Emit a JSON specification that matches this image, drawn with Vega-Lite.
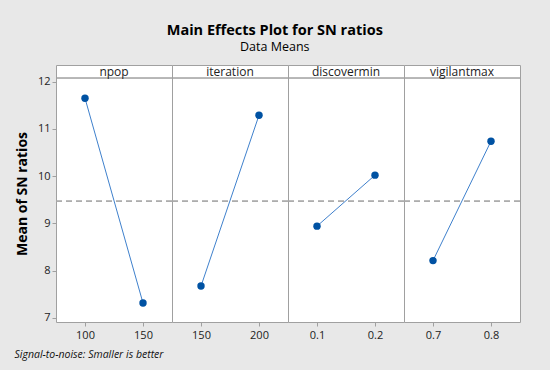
{
  "$schema": "https://vega.github.io/schema/vega-lite/v6.json",
  "background": "#e8e8e8",
  "padding": {"left": 14, "top": 22, "right": 29, "bottom": 10},
  "title": {
    "text": "Main Effects Plot for SN ratios",
    "subtitle": "Data Means",
    "fontSize": 14.5,
    "fontWeight": "bold",
    "subtitleFontSize": 12.5,
    "color": "#000000",
    "subtitleColor": "#000000",
    "anchor": "middle",
    "frame": "bounds",
    "dx": 7,
    "offset": 10,
    "subtitlePadding": 3
  },
  "config": {
    "font": "Open Sans",
    "view": {"stroke": "#a0a0a0", "fill": "#ffffff"},
    "axis": {"labelFontSize": 11, "labelColor": "#222222", "tickColor": "#a0a0a0", "tickSize": 4, "domain": false, "grid": false}
  },
  "spacing": 8,
  "vconcat": [
    {
      "data": {
        "values": [
          {"factor": "npop", "level": "100", "value": 11.65},
          {"factor": "npop", "level": "150", "value": 7.31},
          {"factor": "iteration", "level": "150", "value": 7.67},
          {"factor": "iteration", "level": "200", "value": 11.29},
          {"factor": "discovermin", "level": "0.1", "value": 8.94},
          {"factor": "discovermin", "level": "0.2", "value": 10.02},
          {"factor": "vigilantmax", "level": "0.7", "value": 8.21},
          {"factor": "vigilantmax", "level": "0.8", "value": 10.74}
        ]
      },
      "facet": {
        "column": {
          "field": "factor",
          "type": "nominal",
          "sort": ["npop", "iteration", "discovermin", "vigilantmax"],
          "header": {"title": null, "labels": false}
        }
      },
      "spacing": 0,
      "bounds": "flush",
      "resolve": {"scale": {"x": "independent"}},
      "spec": {
        "width": 116,
        "height": 257,
        "layer": [
          {
            "mark": {"type": "rule", "strokeDash": [6, 4], "color": "#a8a8a8", "strokeWidth": 1.2},
            "encoding": {"y": {"datum": 9.47, "type": "quantitative", "scale": {"domain": [6.909, 12.354], "nice": false, "zero": false},
                "axis": {"title": "Mean of SN ratios", "titleFontSize": 14, "titleFontWeight": "bold", "titleColor": "#000000", "values": [7, 8, 9, 10, 11, 12], "titlePadding": 8}}}
          },
          {"mark": {"type": "rule", "color": "#a0a0a0", "strokeWidth": 1}, "encoding": {"y": {"datum": 12.078, "type": "quantitative"}}},
          {
            "mark": {"type": "line", "color": "#3f80cc", "strokeWidth": 1},
            "encoding": {
              "x": {"field": "level", "type": "ordinal", "scale": {"type": "point", "padding": 0.5}, "axis": {"title": null, "labelAngle": 0, "labelPadding": 3}},
              "y": {"field": "value", "type": "quantitative"}
            }
          },
          {
            "mark": {"type": "point", "filled": true, "size": 55, "opacity": 1, "color": "#0052a3"},
            "encoding": {
              "x": {"field": "level", "type": "ordinal"},
              "y": {"field": "value", "type": "quantitative"}
            }
          },
          {
            "transform": [{"aggregate": [{"op": "count", "as": "n"}], "groupby": ["factor"]}],
            "mark": {"type": "text", "fontSize": 12, "color": "#222222", "baseline": "middle", "align": "center"},
            "encoding": {"y": {"datum": 12.216, "type": "quantitative"}, "text": {"field": "factor"}}
          }
        ]
      }
    },
    {
      "data": {"values": [{"note": "Signal-to-noise: Smaller is better"}]},
      "width": 1,
      "height": 1,
      "view": {"stroke": null, "fill": null},
      "mark": {"type": "text", "align": "left", "baseline": "middle", "fontStyle": "italic", "fontSize": 10.5, "color": "#111111", "dx": -42},
      "encoding": {"text": {"field": "note"}}
    }
  ]
}
